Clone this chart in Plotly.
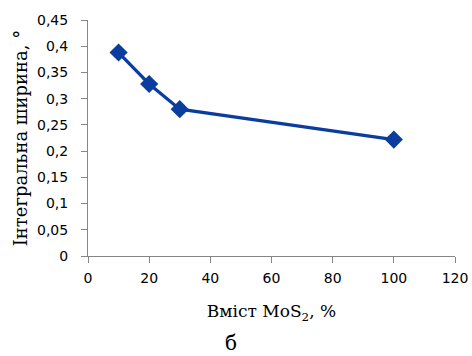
import plotly.graph_objects as go

mos2_content = [10, 20, 30, 100]
integral_width = [0.388, 0.328, 0.280, 0.222]

x_ticks = [0, 20, 40, 60, 80, 100, 120]
x_tick_labels = ["0", "20", "40", "60", "80", "100", "120"]
y_ticks = [0, 0.05, 0.1, 0.15, 0.2, 0.25, 0.3, 0.35, 0.4, 0.45]
y_tick_labels = ["0", "0,05", "0,1", "0,15", "0,2", "0,25", "0,3", "0,35", "0,4", "0,45"]

color = "#0a3d9e"
serif = "DejaVu Serif, serif"
sans = "DejaVu Sans, sans-serif"

fig = go.Figure()
fig.add_trace(go.Scatter(
    x=mos2_content, y=integral_width, mode="lines+markers",
    line=dict(color=color, width=3.2),
    marker=dict(symbol="diamond", size=14, color=color),
    showlegend=False, hoverinfo="skip",
))

axis_common = dict(
    showline=True, linecolor="#868686", linewidth=1,
    ticks="outside", ticklen=6, tickcolor="#868686",
    showgrid=False, zeroline=False, automargin=False,
    tickfont=dict(family=sans, size=14, color="#000"),
)

fig.update_xaxes(range=[0, 120], tickvals=x_ticks, ticktext=x_tick_labels,
                 ticklabelstandoff=3,
                 title=dict(text="Вміст MoS<sub>2</sub>, %", standoff=20,
                            font=dict(family=serif, size=17, color="#000")),
                 **axis_common)
fig.update_yaxes(range=[0, 0.45], tickvals=y_ticks, ticktext=y_tick_labels,
                 ticklabelstandoff=10,
                 title=dict(text="Інтегральна ширина, °", standoff=4,
                            font=dict(family=serif, size=18, color="#000")),
                 **axis_common)

fig.add_annotation(text="б", xref="paper", yref="paper", x=0.39, y=-0.37,
                   showarrow=False, xanchor="center", yanchor="middle",
                   font=dict(family=serif, size=20, color="#000"))

fig.update_layout(
    width=472, height=356,
    margin=dict(l=88, r=17, t=20, b=100),
    paper_bgcolor="white", plot_bgcolor="white",
)

fig.write_html("out.html", config={"displayModeBar": False},
               post_script="document.body.style.margin='0';")
